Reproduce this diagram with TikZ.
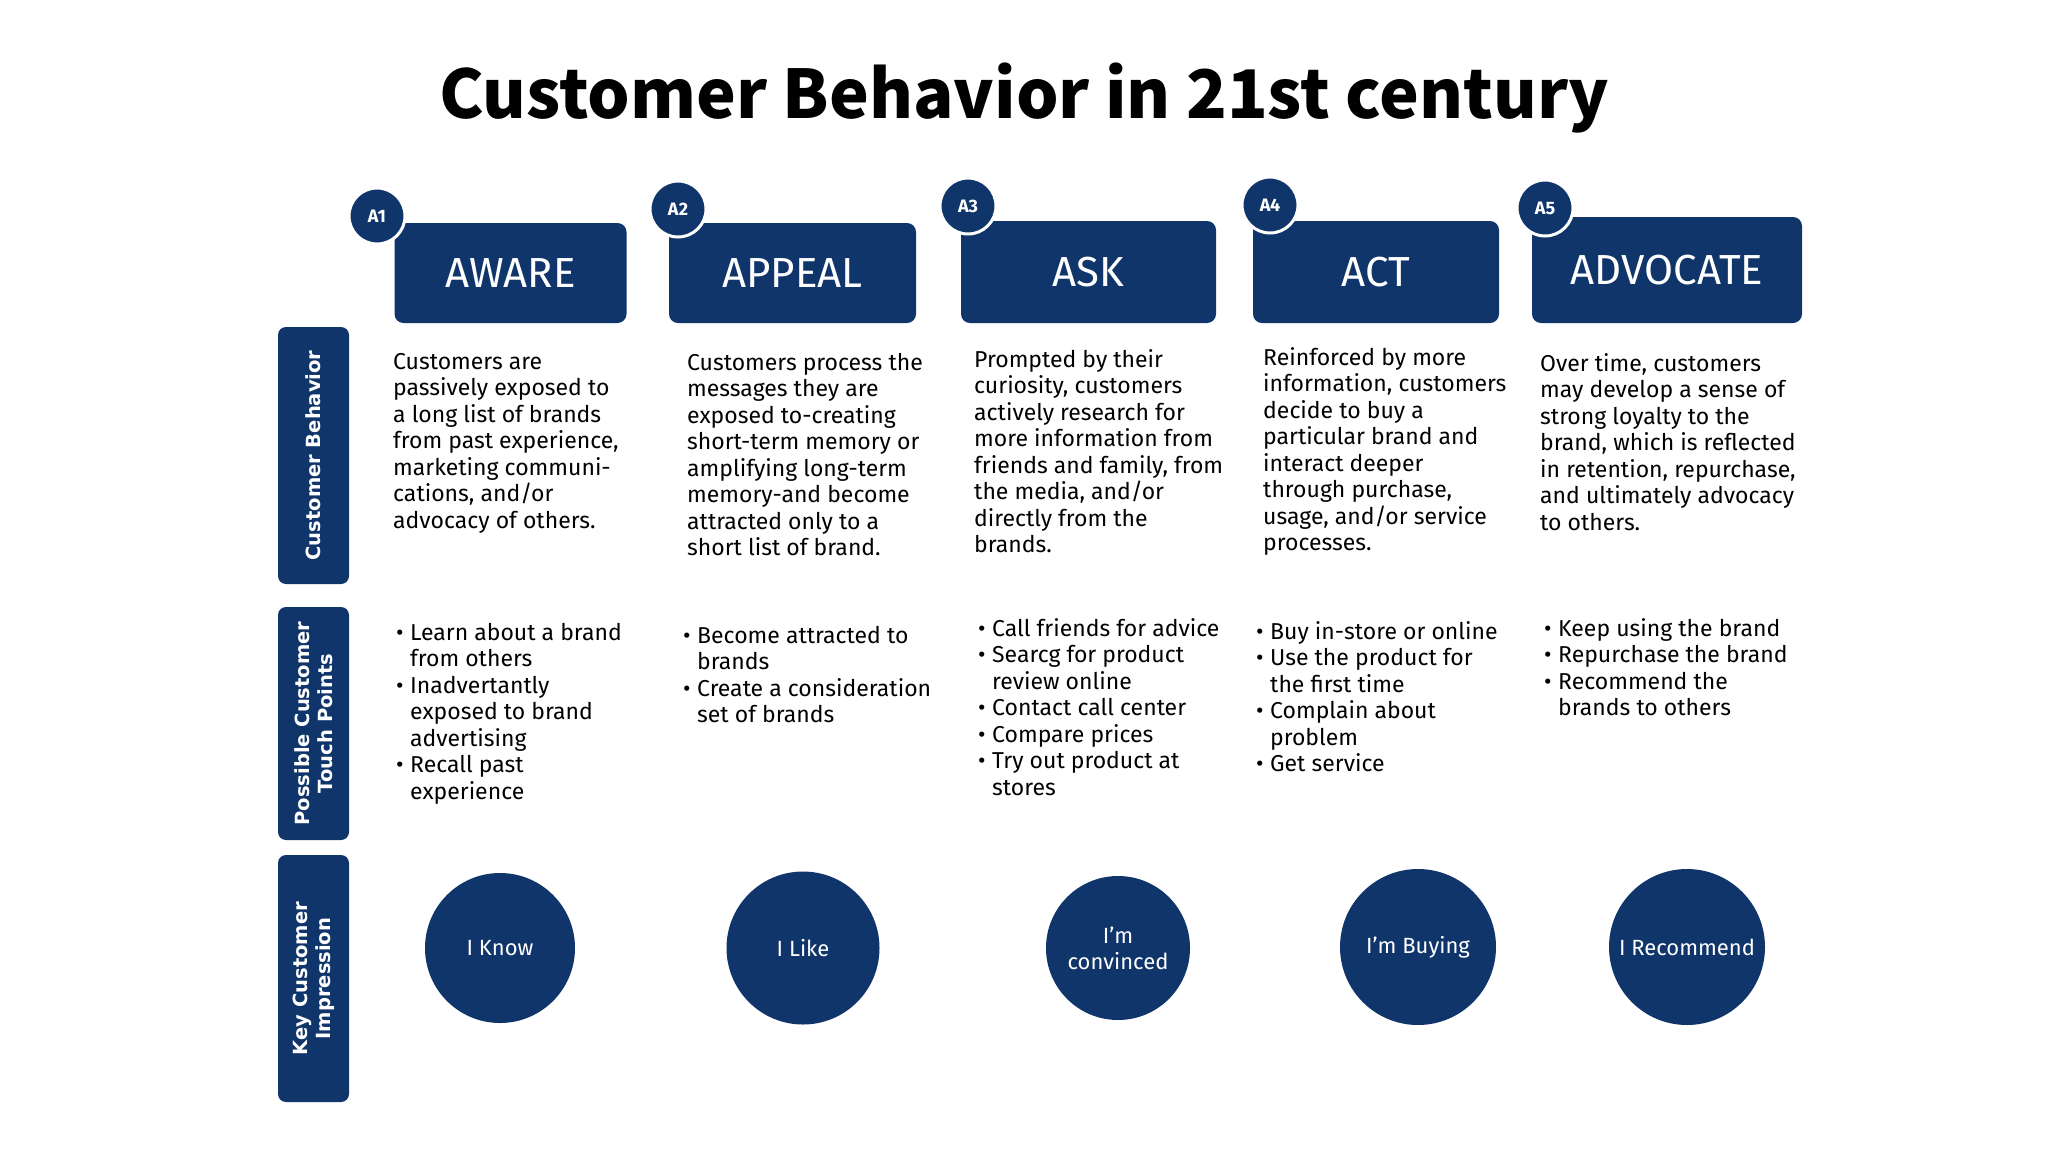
\documentclass[tikz,border=0pt]{standalone}
\usepackage{fontspec}
\setmainfont{Fira Sans}
\newfontfamily\titlefont{Noto Sans CJK SC}
\newfontfamily\labelfont{DejaVu Sans}
\usetikzlibrary{positioning}
\definecolor{navy}{RGB}{16,53,106}
\newcommand{\tpb}{\makebox[14pt][l]{\textbullet}}
\newcommand{\tpc}{\hspace*{14pt}}

\begin{document}
\begin{tikzpicture}[x=1pt, y=-1pt,
    rowlabel/.style={fill=navy, rounded corners=8pt, rotate=90, minimum height=71pt, align=center, text=white, inner sep=0pt, font=\labelfont\bfseries\fontsize{19.5}{23}\selectfont},
    stage/.style={fill=navy, rounded corners=9pt, text=white, inner sep=0pt, font=\fontsize{42}{50}\selectfont},
    badge/.style={circle, fill=navy, draw=white, line width=3pt, minimum size=56pt, inner sep=0pt, text=white, font=\bfseries\fontsize{18}{20}\selectfont},
    desc/.style={anchor=north west, align=left, inner sep=0pt, font=\fontsize{23}{26.5}\selectfont},
    impress/.style={circle, fill=navy, text=white, align=center, inner sep=0pt, font=\fontsize{22}{26}\selectfont}
]
\useasboundingbox[fill=white] (0,0) rectangle (2048,1152);

\node[anchor=base, font=\titlefont\bfseries\fontsize{67}{76}\selectfont] (title) at (1024,118) {Customer Behavior in 21st century};

% row labels
\node[rowlabel, minimum width=257pt] (behav) at (313.5,455.5) {Customer Behavior};
\node[rowlabel, minimum width=233pt] (touch) at (313.5,723.5) {Possible Customer\\Touch Points};
\node[rowlabel, minimum width=247pt] (key) at (313.5,978.5) {Key Customer\\Impression};

% stages
\node[stage, minimum width=232pt, minimum height=100pt] (aware) at (510.5,273) {AWARE};
\node[stage, minimum width=247pt, minimum height=100pt] (appeal) at (792.5,273) {APPEAL};
\node[stage, minimum width=255pt, minimum height=102pt] (ask) at (1088.5,272) {ASK};
\node[stage, minimum width=246pt, minimum height=102pt] (act) at (1376,272) {ACT};
\node[stage, minimum width=270pt, minimum height=106pt] (advocate) at (1667,270) {ADVOCATE};

\node[badge] (a1) at (377,216) {A1};
\node[badge] (a2) at (678,209) {A2};
\node[badge] (a3) at (968,206) {A3};
\node[badge] (a4) at (1270,205) {A4};
\node[badge] (a5) at (1545,208) {A5};

% customer behavior
\node[desc] (beh1) at (393,353) {Customers are\\passively exposed to\\a long list of brands\\from past experience,\\marketing communi-\\cations, and/or\\advocacy of others.};
\node[desc] (beh2) at (687,353) {Customers process the\\messages they are\\exposed to-creating\\short-term memory or\\amplifying long-term\\memory-and become\\attracted only to a\\short list of brand.};
\node[desc] (beh3) at (974,349) {Prompted by their\\curiosity, customers\\actively research for\\more information from\\friends and family, from\\the media, and/or\\directly from the\\brands.};
\node[desc] (beh4) at (1263,347) {Reinforced by more\\information, customers\\decide to buy a\\particular brand and\\interact deeper\\through purchase,\\usage, and/or service\\processes.};
\node[desc] (beh5) at (1540,353) {Over time, customers\\may develop a sense of\\strong loyalty to the\\brand, which is reflected\\in retention, repurchase,\\and ultimately advocacy\\to others.};

% touch points
\node[desc] (tp1) at (396,623) {\tpb Learn about a brand\\\tpc from others\\\tpb Inadvertantly\\\tpc exposed to brand\\\tpc advertising\\\tpb Recall past\\\tpc experience};
\node[desc] (tp2) at (683,626) {\tpb Become attracted to\\\tpc brands\\\tpb Create a consideration\\\tpc set of brands};
\node[desc] (tp3) at (978,618) {\tpb Call friends for advice\\\tpb Searcg for product\\\tpc review online\\\tpb Contact call center\\\tpb Compare prices\\\tpb Try out product at\\\tpc stores};
\node[desc] (tp4) at (1256,621) {\tpb Buy in-store or online\\\tpb Use the product for\\\tpc the first time\\\tpb Complain about\\\tpc problem\\\tpb Get service};
\node[desc] (tp5) at (1544,618) {\tpb Keep using the brand\\\tpb Repurchase the brand\\\tpb Recommend the\\\tpc brands to others};

% impressions
\node[impress, minimum size=150pt] (know) at (500,948) {I Know};
\node[impress, minimum size=153pt] (like) at (803,948) {I Like};
\node[impress, minimum size=144pt] (convinced) at (1118,948) {I'm\\convinced};
\node[impress, minimum size=156pt] (buying) at (1418,947) {I'm Buying};
\node[impress, minimum size=156pt] (recommend) at (1687,947) {I Recommend};
\end{tikzpicture}
\end{document}
